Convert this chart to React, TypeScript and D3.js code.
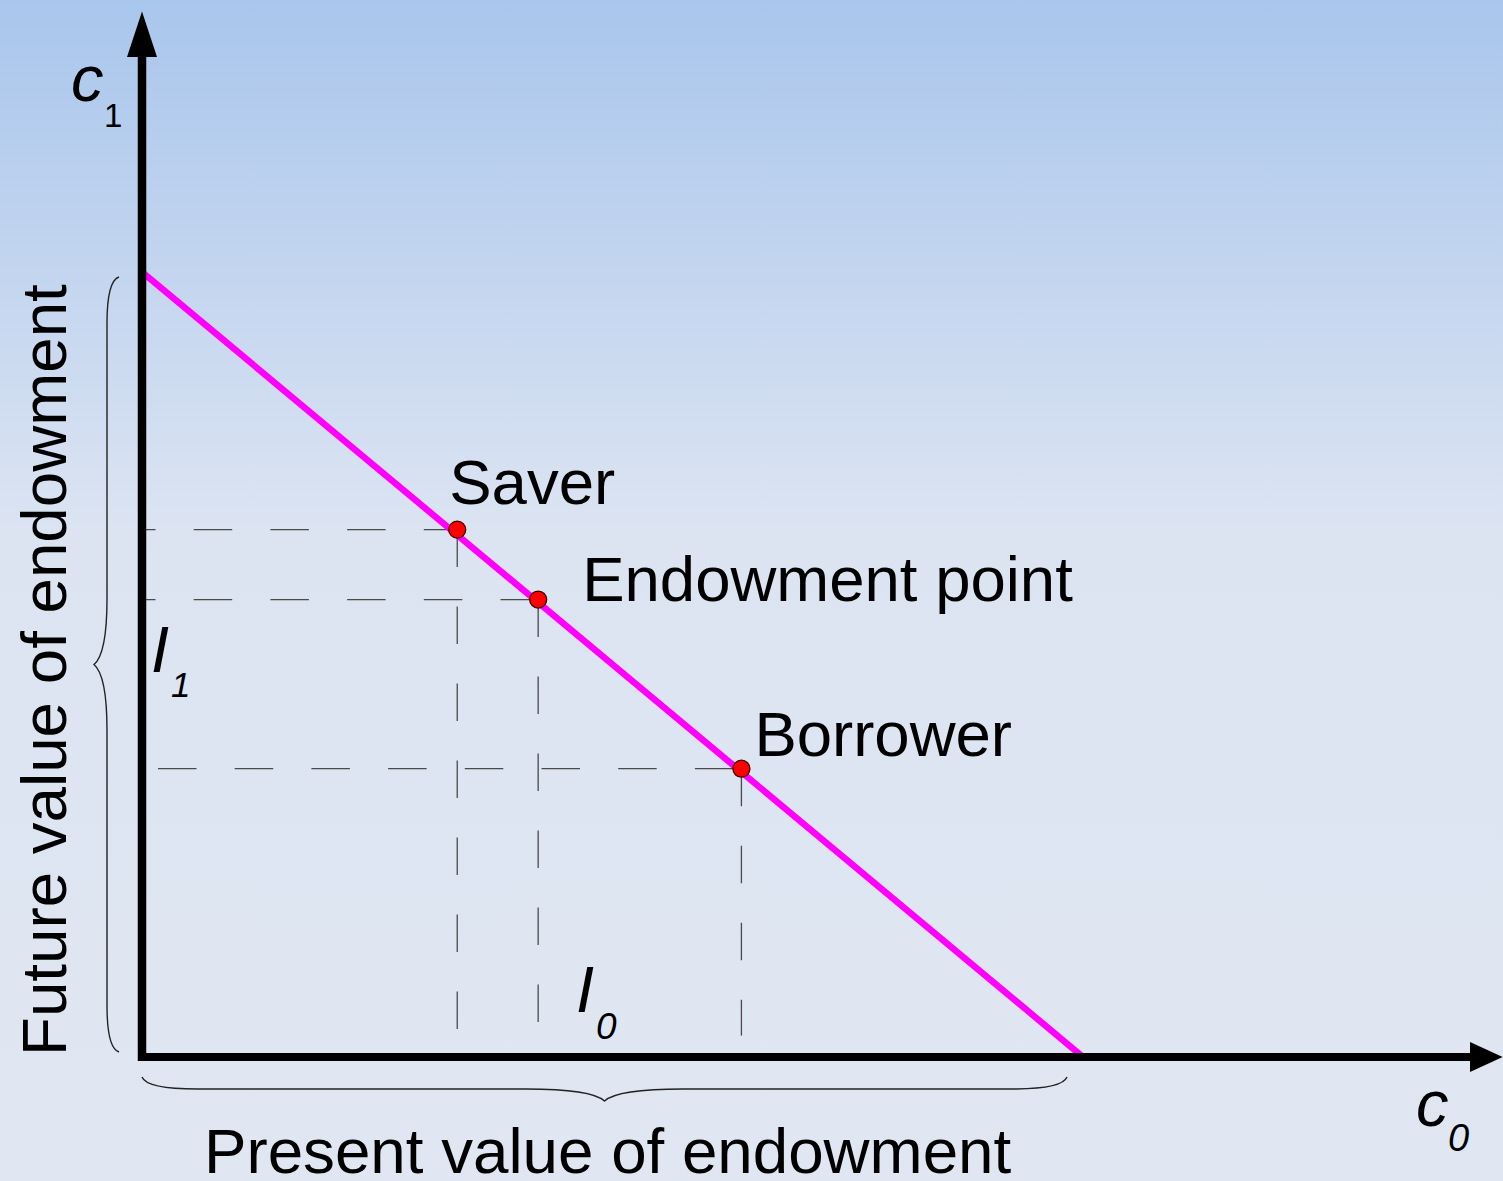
import React, { useEffect, useRef } from 'react'
import * as d3 from 'd3'

const WIDTH = 1503
const HEIGHT = 1181

// intertemporal budget line: c0 = present value of endowment, c1 = future value
const presentValue = 100
const futureValue = 110
// how far the axes reach, in the same units
const c0AxisMax = 144.6
const c1AxisMax = 146.5
// dashed guides stop just above the c0 axis
const guideFloor = 3

const pointNames = ['Saver', 'Endowment point', 'Borrower']
const pointC0 = [33.5, 42.1, 63.7]
const pointC1 = [73.9, 64.1, 40.4]

// label placement relative to each point (px)
const labelOffsets = [[-8, -26], [44, 1], [13, -13]]
// where each horizontal guide starts and the phase of its dashes
const guideStartX = [146, 146, 158]
const guideDashOffset = [29, 29, 0]

const FONT = "'Liberation Sans', Arial, sans-serif"

function App() {
    const ref = useRef(null)

    useEffect(() => {
        const node = ref.current
        const svg = d3.select(node)
        svg.selectAll('*').remove()

        const x = d3.scaleLinear().domain([0, presentValue]).range([142, 1083])
        const y = d3.scaleLinear().domain([0, futureValue]).range([1057, 272])

        // background
        const defs = svg.append('defs')
        const grad = defs.append('linearGradient')
            .attr('id', 'bg')
            .attr('x1', 0).attr('y1', 0).attr('x2', 0).attr('y2', 1)
        grad.append('stop').attr('offset', '0%').attr('stop-color', '#a9c6ec')
        grad.append('stop').attr('offset', '45%').attr('stop-color', '#dce4f2')
        grad.append('stop').attr('offset', '100%').attr('stop-color', '#e0e7f2')
        svg.append('rect')
            .attr('width', WIDTH).attr('height', HEIGHT)
            .attr('fill', 'url(#bg)')

        const points = pointNames.map((name, i) => ({ name, c0: pointC0[i], c1: pointC1[i], i }))

        // dashed guides
        const guides = svg.append('g')
            .attr('stroke', '#4a4a4a')
            .attr('stroke-width', 1.3)
            .attr('fill', 'none')
        guides.selectAll('line.h')
            .data(points)
            .join('line')
            .attr('class', 'h')
            .attr('x1', d => guideStartX[d.i])
            .attr('x2', d => x(d.c0))
            .attr('y1', d => y(d.c1))
            .attr('y2', d => y(d.c1))
            .attr('stroke-dasharray', '38.5 38.2')
            .attr('stroke-dashoffset', d => guideDashOffset[d.i])
        guides.selectAll('line.v')
            .data(points)
            .join('line')
            .attr('class', 'v')
            .attr('x1', d => x(d.c0))
            .attr('x2', d => x(d.c0))
            .attr('y1', d => y(d.c1))
            .attr('y2', y(guideFloor))
            .attr('stroke-dasharray', '37.5 39.5')

        // budget line
        const line = d3.line().x(d => x(d[0])).y(d => y(d[1]))
        svg.append('path')
            .attr('d', line([[0, futureValue], [presentValue, 0]]))
            .attr('stroke', '#ff00ff')
            .attr('stroke-width', 6.5)
            .attr('fill', 'none')

        // braces
        const brace = (ax, ay, bx, by, spine, tip) => {
            const len = Math.hypot(bx - ax, by - ay)
            const ux = (bx - ax) / len, uy = (by - ay) / len
            // normal points to the left of the travel direction
            const nx = uy, ny = -ux
            const e = len * 0.06, t = len * 0.085
            const mx = (ax + bx) / 2, my = (ay + by) / 2
            const p = (bx0, by0, u, n) => [bx0 + ux * u + nx * n, by0 + uy * u + ny * n]
            const path = d3.path()
            path.moveTo(ax, ay)
            let c1 = p(ax, ay, e * 0.05, spine * 0.6), c2 = p(ax, ay, e * 0.35, spine), c3 = p(ax, ay, e, spine)
            path.bezierCurveTo(...c1, ...c2, ...c3)
            let l = p(mx, my, -t, spine)
            path.lineTo(...l)
            c1 = p(mx, my, -t * 0.4, spine); c2 = p(mx, my, -t * 0.1, spine + (tip - spine) * 0.4); c3 = p(mx, my, 0, tip)
            path.bezierCurveTo(...c1, ...c2, ...c3)
            c1 = p(mx, my, t * 0.1, spine + (tip - spine) * 0.4); c2 = p(mx, my, t * 0.4, spine); c3 = p(mx, my, t, spine)
            path.bezierCurveTo(...c1, ...c2, ...c3)
            l = p(bx, by, -e, spine)
            path.lineTo(...l)
            c1 = p(bx, by, -e * 0.35, spine); c2 = p(bx, by, -e * 0.05, spine * 0.6)
            path.bezierCurveTo(...c1, ...c2, bx, by)
            return path.toString()
        }
        const braces = svg.append('g')
            .attr('stroke', '#222')
            .attr('stroke-width', 1.4)
            .attr('fill', 'none')
        // future value brace runs up the left side, bulging left
        braces.append('path').attr('d', brace(119, y(0) - 5, 119, y(futureValue) + 5, 12, 25))
        // present value brace runs along the bottom, bulging down
        braces.append('path').attr('d', brace(x(presentValue) - 16, 1077, x(0), 1077, 12, 24))

        // axes
        const axes = svg.append('g').attr('fill', '#000')
        axes.append('line')
            .attr('x1', x(0)).attr('x2', x(0))
            .attr('y1', y(0) + 4).attr('y2', 55)
            .attr('stroke', '#000').attr('stroke-width', 8.5)
        axes.append('path')
            .attr('d', `M${x(0)},${y(c1AxisMax)} L${x(0) + 15},57 L${x(0) - 15},57 Z`)
        axes.append('line')
            .attr('x1', x(0) - 4).attr('x2', 1472)
            .attr('y1', y(0)).attr('y2', y(0))
            .attr('stroke', '#000').attr('stroke-width', 8)
        axes.append('path')
            .attr('d', `M${x(c0AxisMax)},${y(0)} L1470,${y(0) - 15} L1470,${y(0) + 15} Z`)

        // points
        svg.append('g')
            .selectAll('circle')
            .data(points)
            .join('circle')
            .attr('cx', d => x(d.c0))
            .attr('cy', d => y(d.c1))
            .attr('r', 8.5)
            .attr('fill', '#ff0000')
            .attr('stroke', '#3a0000')
            .attr('stroke-width', 1.3)

        const text = svg.append('g')
            .attr('font-family', FONT)
            .attr('fill', '#000')

        text.selectAll('text.pt')
            .data(points)
            .join('text')
            .attr('class', 'pt')
            .attr('x', d => x(d.c0) + labelOffsets[d.i][0])
            .attr('y', d => y(d.c1) + labelOffsets[d.i][1])
            .attr('font-size', 63.5)
            .text(d => d.name)

        // symbol with subscript
        const symbol = (sx, sy, main, sub, subItalic, subDx, subDy, subSize) => {
            text.append('text')
                .attr('x', sx).attr('y', sy)
                .attr('font-size', 65)
                .attr('font-style', 'italic')
                .text(main)
            text.append('text')
                .attr('x', sx + subDx).attr('y', sy + subDy)
                .attr('font-size', subSize)
                .attr('font-style', subItalic ? 'italic' : 'normal')
                .text(sub)
        }
        symbol(71, 101, 'c', '1', false, 33, 26, 33)
        symbol(1416, 1126, 'c', '0', true, 32, 25, 38)
        symbol(151, 672, 'I', '1', true, 20, 25, 35)
        symbol(576, 1012, 'I', '0', true, 20, 27, 37)

        text.append('text')
            .attr('transform', 'translate(66,1056) rotate(-90)')
            .attr('font-size', 63.7)
            .text('Future value of endowment')

        text.append('text')
            .attr('x', 204).attr('y', 1173)
            .attr('font-size', 63.7)
            .text('Present value of endowment')
    }, [])

    return (
        <svg ref={ref} width={WIDTH} height={HEIGHT}
            style={{ position: 'absolute', left: 0, top: 0, display: 'block' }} />
    )
}

export default App
